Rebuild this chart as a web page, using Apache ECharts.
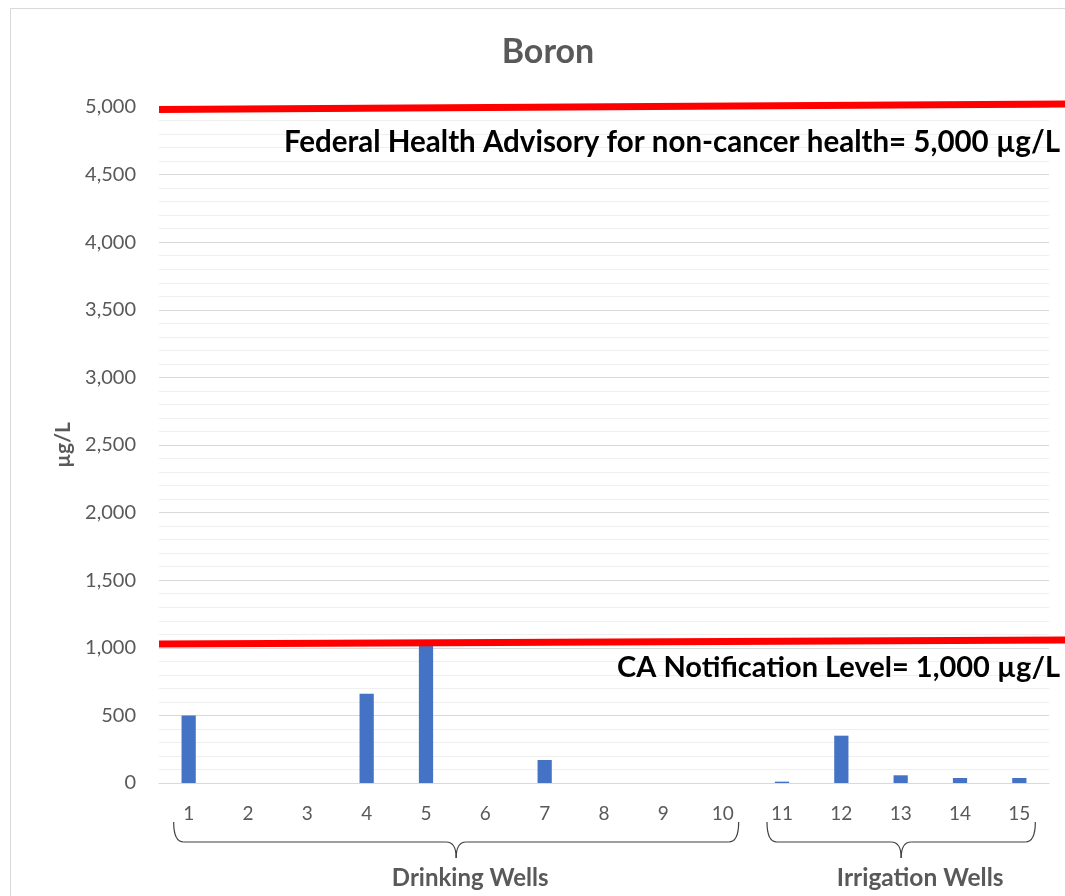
<!DOCTYPE html>
<html>
<head>
<meta charset="utf-8">
<script src="https://cdn.jsdelivr.net/npm/echarts@6/dist/echarts.min.js"></script>
<style>html,body{margin:0;padding:0;background:#fff}#c{width:1065px;height:896px}</style>
</head>
<body>
<div id="c"></div>
<script>
const categories = ['1','2','3','4','5','6','7','8','9','10','11','12','13','14','15'];
const boronValues = [500, 0, 0, 660, 1020, 0, 170, 0, 0, 0, 10, 350, 57, 37, 37];
const yTicks = [0, 500, 1000, 1500, 2000, 2500, 3000, 3500, 4000, 4500, 5000];
const thresholdLabels = ['Federal Health Advisory for non-cancer health= 5,000 µg/L', 'CA Notification Level= 1,000 µg/L'];
const thresholdValues = [5000, 1000];
const thresholdLineStart = [4981, 1028];
const thresholdLineEnd = [5022, 1058];
const groupNames = ['Drinking Wells', 'Irrigation Wells'];
const groupFirst = ['1', '11'];
const groupLast = ['10', '15'];

const FONT = 'Lato, "Open Sans", sans-serif';
const chart = echarts.init(document.getElementById('c'), null, {renderer: 'canvas'});
chart.setOption({
  animation: false,
  backgroundColor: '#fff',
  title: {
    text: 'Boron', left: 543, textAlign: 'center', top: 30,
    textStyle: {fontFamily: FONT, fontSize: 34, fontWeight: 'bold', color: '#595959'}
  },
  grid: {left: 159, right: 16, top: 107, bottom: 113, containLabel: false},
  xAxis: {
    type: 'category', data: categories,
    axisTick: {show: false},
    axisLine: {show: true, lineStyle: {color: '#d9d9d9', width: 1}},
    axisLabel: {fontFamily: FONT, fontSize: 19, color: '#595959', margin: 21}
  },
  yAxis: {
    type: 'value', min: yTicks[0], max: yTicks[yTicks.length - 1], interval: 500,
    name: 'µg/L', nameLocation: 'middle', nameGap: 82,
    nameTextStyle: {fontFamily: FONT, fontSize: 21, fontWeight: 'bold', color: '#595959'},
    axisLine: {show: false}, axisTick: {show: false},
    axisLabel: {fontFamily: FONT, fontSize: 20, color: '#595959', margin: 23,
      formatter: v => v.toLocaleString('en-US')},
    splitLine: {lineStyle: {color: '#d9d9d9', width: 1}},
    minorTick: {show: false, splitNumber: 5},
    minorSplitLine: {show: true, lineStyle: {color: '#efefef', width: 1}}
  },
  series: [{
    type: 'bar', data: boronValues, barWidth: '24%',
    itemStyle: {color: '#4472C4'}
  }]
});

function draw() {
  const px = c => chart.convertToPixel({xAxisIndex: 0}, c);
  const py = v => chart.convertToPixel({yAxisIndex: 0}, v);
  const W = chart.getWidth();
  const gLeft = px(categories[0]) - (px(categories[1]) - px(categories[0])) / 2;
  const g = [];
  g.push({type: 'rect', shape: {x: 10.5, y: 8.5, width: W + 10, height: 900},
    style: {fill: 'none', stroke: '#d9d9d9', lineWidth: 1}, z: 0});
  const textOff = [35, 20];
  const textSize = [29.5, 29];
  thresholdValues.forEach((v, i) => {
    g.push({type: 'line', shape: {x1: gLeft, y1: py(thresholdLineStart[i]), x2: W, y2: py(thresholdLineEnd[i])},
      style: {stroke: '#ff0000', lineWidth: 7}, z: 100});
    g.push({type: 'text', x: W - 5, y: py(v) + textOff[i],
      style: {text: thresholdLabels[i], font: 'bold ' + textSize[i] + 'px ' + FONT, fill: '#000', align: 'right', verticalAlign: 'middle'}, z: 100});
  });
  const labelShift = [14, 19];
  const labelSize = [24, 24.5];
  const braceStyle = {fill: 'none', stroke: '#404040', lineWidth: 1.2};
  groupNames.forEach((name, i) => {
    const xl = px(groupFirst[i]) - 15, xr = px(groupLast[i]) + 16, xm = (xl + xr) / 2;
    const yt = 822, yh = 842, yb = 858, r = 10;
    const curve = (x1, y1, cx, cy, x2, y2) => ({type: 'bezierCurve',
      shape: {x1, y1, x2, y2, cpx1: cx, cpy1: cy}, style: braceStyle, z: 100});
    g.push(curve(xl, yt, xl, yh, xl + r, yh));
    g.push({type: 'line', shape: {x1: xl + r, y1: yh, x2: xm - r, y2: yh}, style: braceStyle, z: 100});
    g.push(curve(xm - r, yh, xm, yh, xm, yb));
    g.push(curve(xm, yb, xm, yh, xm + r, yh));
    g.push({type: 'line', shape: {x1: xm + r, y1: yh, x2: xr - r, y2: yh}, style: braceStyle, z: 100});
    g.push(curve(xr - r, yh, xr, yh, xr, yt));
    g.push({type: 'text', x: xm + labelShift[i], y: 878,
      style: {text: name, font: 'bold ' + labelSize[i] + 'px ' + FONT, fill: '#595959', align: 'center', verticalAlign: 'middle'}, z: 100});
  });
  chart.setOption({graphic: g});
}
draw();
</script>
</body>
</html>
